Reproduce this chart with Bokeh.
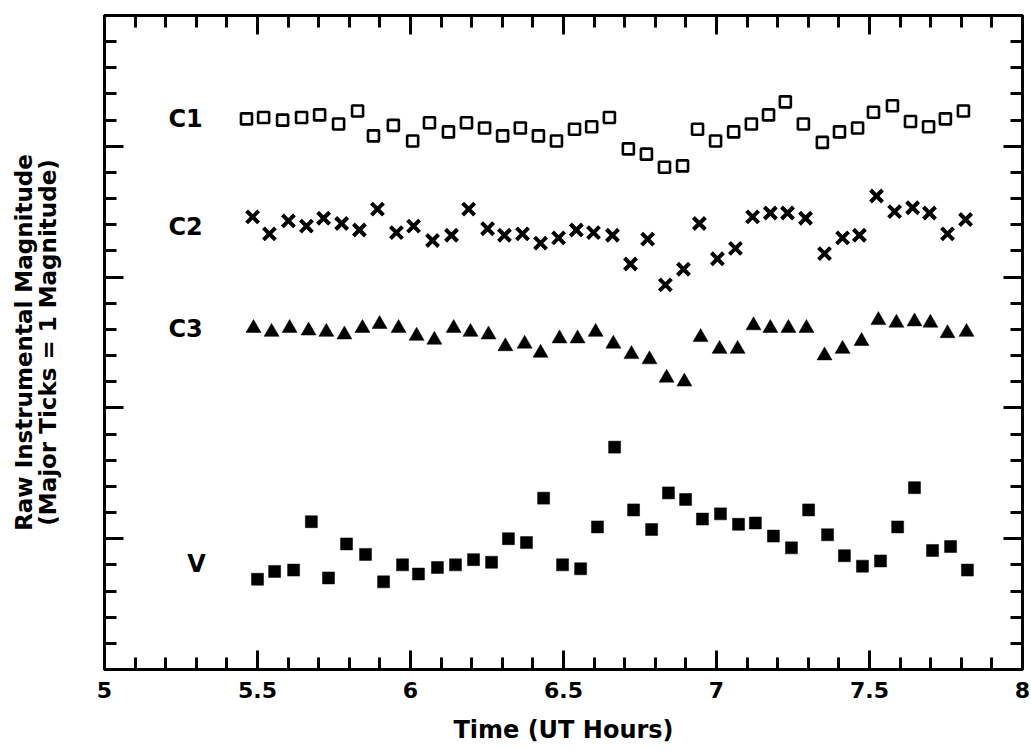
from bokeh.plotting import figure
from bokeh.models import (Range1d, LinearAxis, FixedTicker, NumeralTickFormatter, Label,
                          CustomJSTickFormatter)
from bokeh.embed import file_html
from bokeh.resources import INLINE

# ---- data (time in UT hours, relative raw magnitude in magnitudes above bottom of frame) ----
c1_t = [5.464, 5.520, 5.582, 5.644, 5.703, 5.765, 5.827, 5.879, 5.944, 6.007, 6.062, 6.124, 6.183, 6.242,
        6.301, 6.359, 6.418, 6.477, 6.536, 6.592, 6.650, 6.712, 6.771, 6.830, 6.889, 6.938, 6.997, 7.056,
        7.114, 7.170, 7.225, 7.284, 7.346, 7.402, 7.461, 7.513, 7.575, 7.634, 7.693, 7.748, 7.807]
c1_m = [4.21, 4.22, 4.20, 4.22, 4.24, 4.17, 4.27, 4.08, 4.16, 4.04, 4.18, 4.11, 4.18, 4.14, 4.08, 4.14,
        4.08, 4.04, 4.13, 4.15, 4.22, 3.98, 3.94, 3.84, 3.85, 4.13, 4.04, 4.11, 4.17, 4.24, 4.34, 4.17,
        4.03, 4.11, 4.14, 4.26, 4.31, 4.19, 4.15, 4.21, 4.27]

c2_t = [5.484, 5.539, 5.601, 5.660, 5.716, 5.775, 5.833, 5.892, 5.954, 6.010, 6.072, 6.134, 6.190, 6.252,
        6.307, 6.366, 6.425, 6.484, 6.542, 6.598, 6.660, 6.719, 6.775, 6.833, 6.892, 6.944, 7.003, 7.062,
        7.118, 7.176, 7.232, 7.291, 7.353, 7.412, 7.467, 7.523, 7.582, 7.641, 7.696, 7.755, 7.814]
c2_m = [3.46, 3.33, 3.43, 3.39, 3.45, 3.41, 3.36, 3.52, 3.34, 3.39, 3.28, 3.32, 3.52, 3.37, 3.32, 3.33,
        3.26, 3.30, 3.36, 3.34, 3.32, 3.10, 3.29, 2.94, 3.06, 3.41, 3.14, 3.22, 3.46, 3.49, 3.49, 3.45,
        3.18, 3.30, 3.32, 3.62, 3.50, 3.53, 3.49, 3.33, 3.44]

c3_t = [5.487, 5.546, 5.605, 5.667, 5.725, 5.784, 5.843, 5.899, 5.961, 6.020, 6.078, 6.141, 6.196, 6.255,
        6.310, 6.373, 6.425, 6.487, 6.546, 6.605, 6.663, 6.722, 6.781, 6.837, 6.895, 6.948, 7.010, 7.069,
        7.121, 7.176, 7.235, 7.294, 7.353, 7.412, 7.474, 7.529, 7.588, 7.647, 7.699, 7.755, 7.817]
c3_m = [2.61, 2.58, 2.61, 2.59, 2.58, 2.56, 2.61, 2.64, 2.61, 2.55, 2.52, 2.61, 2.58, 2.56, 2.47, 2.49,
        2.42, 2.53, 2.53, 2.58, 2.49, 2.41, 2.37, 2.23, 2.20, 2.54, 2.45, 2.45, 2.63, 2.61, 2.61, 2.61,
        2.40, 2.45, 2.51, 2.67, 2.65, 2.66, 2.65, 2.57, 2.58]

v_t = [5.500, 5.556, 5.618, 5.676, 5.732, 5.791, 5.853, 5.912, 5.974, 6.026, 6.088, 6.147, 6.206, 6.265,
       6.320, 6.379, 6.435, 6.497, 6.556, 6.611, 6.667, 6.729, 6.788, 6.843, 6.899, 6.954, 7.013, 7.072,
       7.127, 7.186, 7.245, 7.301, 7.363, 7.418, 7.477, 7.536, 7.592, 7.647, 7.706, 7.765, 7.820]
v_m = [0.69, 0.75, 0.76, 1.13, 0.70, 0.96, 0.88, 0.67, 0.80, 0.73, 0.78, 0.80, 0.84, 0.82, 1.00, 0.97,
       1.31, 0.80, 0.77, 1.09, 1.70, 1.22, 1.07, 1.35, 1.30, 1.15, 1.19, 1.11, 1.12, 1.02, 0.93, 1.22,
       1.03, 0.87, 0.79, 0.83, 1.09, 1.39, 0.91, 0.94, 0.76]

x_ticks = [5, 5.5, 6, 6.5, 7, 7.5, 8]
x_minor = [5 + 0.1 * i for i in range(31)]
y_ticks = [0, 1, 2, 3, 4, 5]
y_minor = [0.2 * i for i in range(26)]

series_names = ["C1", "C2", "C3", "V"]

FONT = "DejaVu Sans"

p = figure(width=1031, height=755, output_backend="svg", toolbar_location=None,
           x_range=Range1d(5, 8), y_range=Range1d(0, 5),
           min_border_left=104, min_border_right=9, min_border_top=15, min_border_bottom=86,
           x_axis_label="Time (UT Hours)",
           y_axis_label="Raw Instrumental Magnitude\n(Major Ticks = 1 Magnitude)")
p.grid.visible = False
p.outline_line_color = "black"
p.outline_line_width = 3
p.background_fill_color = "white"
p.border_fill_color = "white"

xt = FixedTicker(ticks=x_ticks, minor_ticks=x_minor)
yt = FixedTicker(ticks=y_ticks, minor_ticks=y_minor)


def style_axis(ax, show_labels):
    ax.axis_line_width = 3
    ax.axis_line_color = "black"
    ax.major_tick_in = 19
    ax.major_tick_out = 0
    ax.minor_tick_in = 12
    ax.minor_tick_out = 0
    ax.major_tick_line_width = 3
    ax.minor_tick_line_width = 3
    ax.major_tick_line_color = "black"
    ax.minor_tick_line_color = "black"
    if not show_labels:
        ax.formatter = CustomJSTickFormatter(code="return '';")
        ax.major_label_text_font_size = "1px"
        ax.major_label_text_color = None
        ax.major_label_standoff = 0


xa = p.xaxis[0]
xa.ticker = xt
xa.formatter = NumeralTickFormatter(format="0.[0]")
style_axis(xa, True)
xa.major_label_text_font = FONT
xa.major_label_text_font_style = "bold"
xa.major_label_text_font_size = "22px"
xa.major_label_text_color = "black"
xa.major_label_standoff = 12
xa.axis_label_text_font = FONT
xa.axis_label_text_font_style = "bold"
xa.axis_label_text_font_size = "24px"
xa.axis_label_text_color = "black"
xa.axis_label_standoff = 15

ya = p.yaxis[0]
ya.ticker = yt
style_axis(ya, False)
ya.axis_label_text_font = FONT
ya.axis_label_text_font_style = "bold"
ya.axis_label_text_font_size = "23px"
ya.axis_label_text_color = "black"
ya.axis_label_text_line_height = 0.9
ya.axis_label_standoff = 44

top = LinearAxis(ticker=xt)
style_axis(top, False)
p.add_layout(top, "above")
right = LinearAxis(ticker=yt)
style_axis(right, False)
p.add_layout(right, "right")

# series
p.scatter(c1_t, c1_m, marker="square", size=11, fill_color=None, line_color="black", line_width=2.6)
p.scatter(c2_t, c2_m, marker="x", size=17, line_color="black", line_width=4)
p.scatter(c3_t, c3_m, marker="triangle", size=15, fill_color="black", line_color="black", line_width=0.5)
p.scatter(v_t, v_m, marker="square", size=12, fill_color="black", line_color="black", line_width=0.5)

label_pos = {"C1": (5.209, 4.205, "left"), "C2": (5.209, 3.38, "left"),
             "C3": (5.209, 2.60, "left"), "V": (5.301, 0.81, "center")}
for name in series_names:
    lx, ly, al = label_pos[name]
    p.add_layout(Label(x=lx, y=ly, text=name, text_font=FONT, text_font_style="bold",
                       text_font_size="24px", text_color="black", text_align=al,
                       text_baseline="middle"))

open("out.html", "w").write(file_html(p, INLINE))
